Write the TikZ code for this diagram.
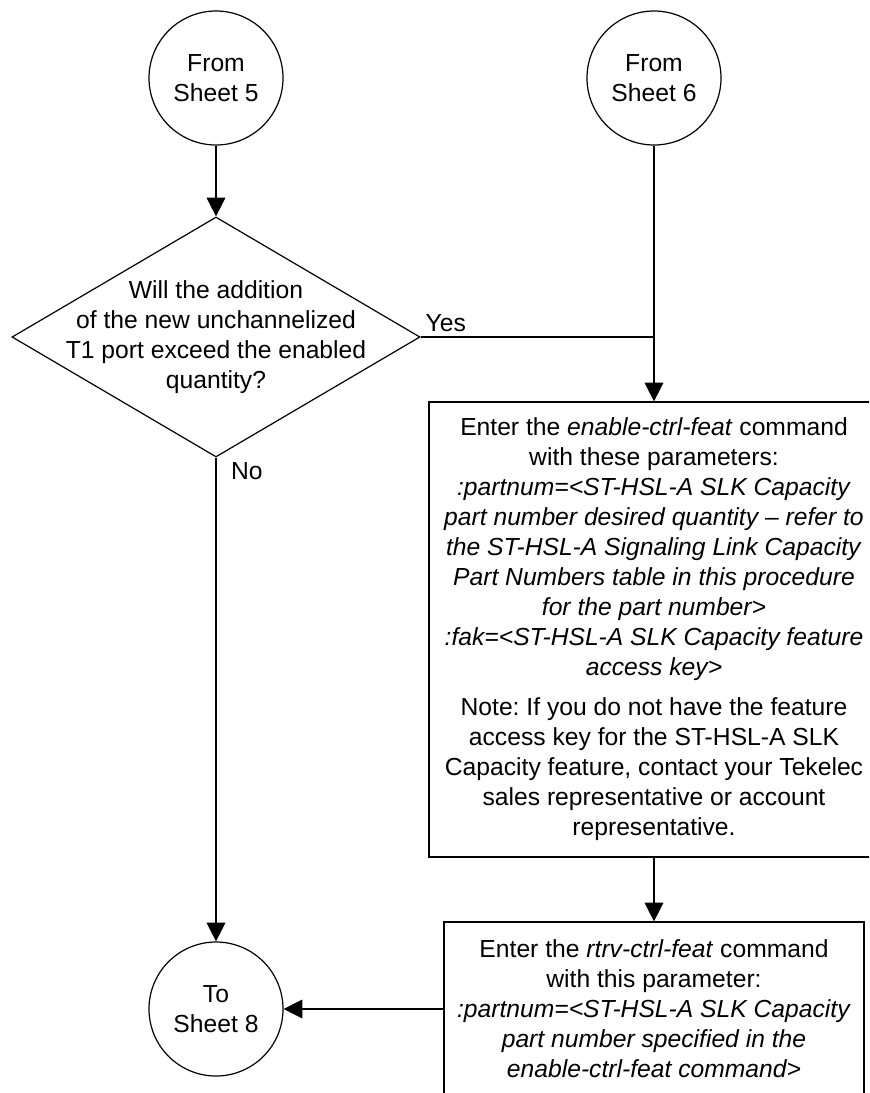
\documentclass[tikz,border=0pt]{standalone}
\usepackage{fontspec}
\setmainfont{Liberation Sans}
\usetikzlibrary{arrows.meta,shapes.geometric}

\tikzset{
    sheet/.style={draw, circle, minimum size=100.5pt, inner sep=0pt, align=center},
    decision/.style={draw, diamond, minimum width=306pt, minimum height=180pt, inner sep=0pt},
    cmdbox/.style={draw, rectangle, align=center, inner sep=0pt},
    flow/.style={-{Triangle[length=14pt,width=14pt]}},
}

\begin{document}
\begin{tikzpicture}[x=0.75pt,y=-0.75pt, line width=0.9pt, font=\fontsize{18.5pt}{22.5pt}\selectfont]
    % page
    \useasboundingbox (0,0) rectangle (869,1093);
    \fill[white] (0,0) rectangle (869,1093);
    \clip (0,0) rectangle (869,1093);

    % off-page connectors
    \node[sheet] (from5) at (216,78) {From\\Sheet 5};
    \node[sheet] (from6) at (654,78) {From\\Sheet 6};
    \node[sheet] (to8) at (216,1009) {To\\Sheet 8};

    % decision
    \node[decision] (exceed) at (216,337) {};
    \node[align=center] (exceedtext) at (exceed) {Will the addition\\of the new unchannelized\\T1 port exceed the enabled\\quantity?};

    % command boxes
    \node[cmdbox, minimum width=337.5pt, minimum height=341.25pt] (enable) at (654,629.5) {%
        Enter the \textit{enable-ctrl-feat} command\\
        with these parameters:\\
        \textit{:partnum=<ST-HSL-A SLK Capacity}\\
        \textit{part number desired quantity – refer to}\\
        \textit{the ST-HSL-A Signaling Link Capacity}\\
        \textit{Part Numbers table in this procedure}\\
        \textit{for the part number>}\\
        \textit{:fak=<ST-HSL-A SLK Capacity feature}\\
        \textit{access key>}\\[7.5pt]
        Note:\ If you do not have the feature\\
        access key for the ST-HSL-A SLK\\
        Capacity feature, contact your Tekelec\\
        sales representative or account\\
        representative.};
    \node[cmdbox, minimum width=315pt, minimum height=130.5pt] (rtrv) at (654,1009) {%
        Enter the \textit{rtrv-ctrl-feat} command\\
        with this parameter:\\
        \textit{:partnum=<ST-HSL-A SLK Capacity}\\
        \textit{part number specified in the}\\
        \textit{enable-ctrl-feat command>}};

    % connectors
    \draw[flow] (from5) -- (exceed);
    \draw[flow] (from6) -- (enable);
    \draw (exceed.east) -- node[pos=0, above right] (yes) {Yes} (exceed.east -| from6);
    \draw[flow] (exceed) -- node[pos=0, below right, xshift=7.5pt] (no) {No} (to8);
    \draw[flow] (enable) -- (rtrv);
    \draw[flow] (rtrv) -- (to8);
\end{tikzpicture}
\end{document}
